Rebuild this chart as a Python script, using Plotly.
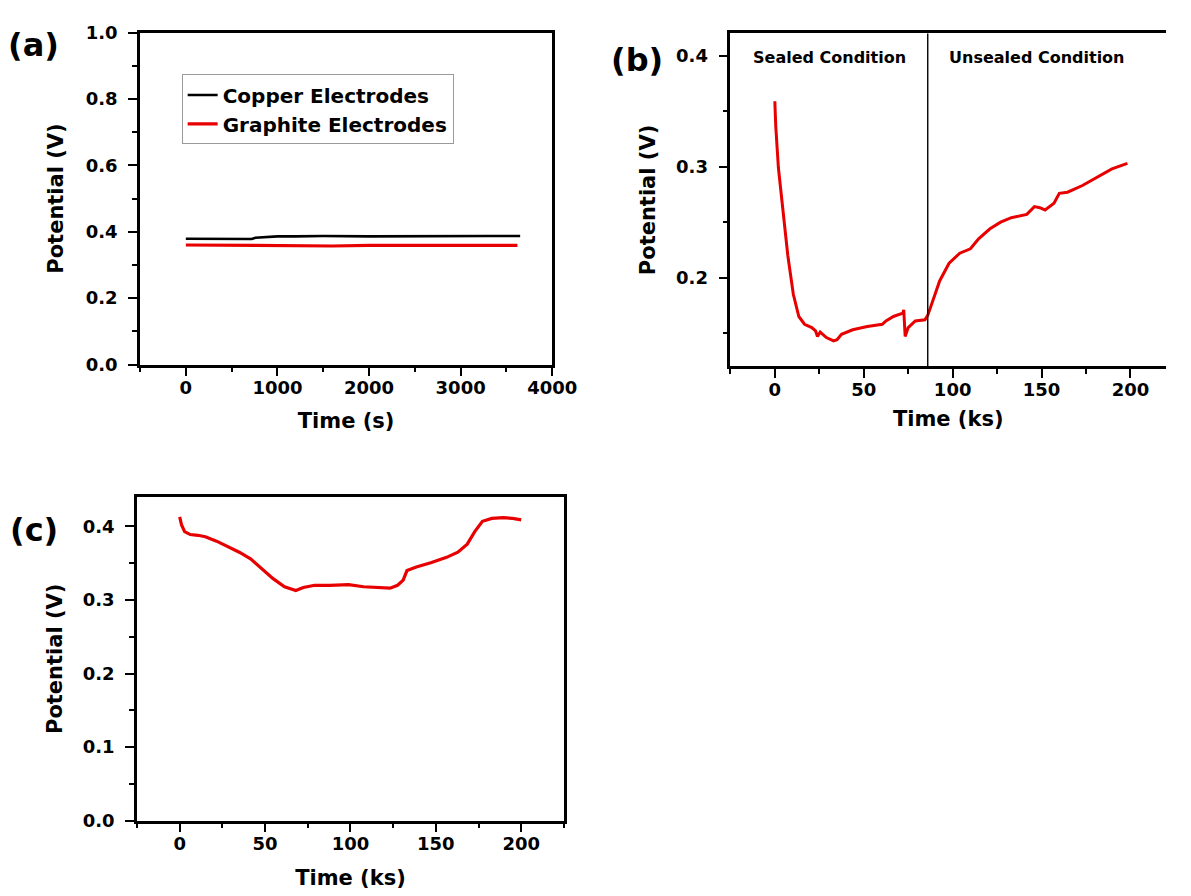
import plotly.graph_objects as go

# ---------------- data ----------------
# (a) short-term potential, time in s
cu_t = [0, 200, 400, 600, 720, 760, 900, 1000, 1200, 1500, 2000, 2500, 2800, 3000, 3300, 3650]
cu_v = [0.379, 0.379, 0.378, 0.378, 0.378, 0.382, 0.384, 0.386, 0.386, 0.387, 0.386, 0.387, 0.388, 0.387, 0.387, 0.387]
gr_t = [0, 400, 800, 1200, 1600, 2000, 2400, 2800, 3200, 3620]
gr_v = [0.360, 0.359, 0.359, 0.358, 0.357, 0.359, 0.359, 0.359, 0.359, 0.359]

# (b) sealed / unsealed, time in ks
b_t = [0, 0.5, 2, 4.2, 7.3, 10.4, 13.5, 16.7, 20.8, 22.9, 24, 25.5, 29, 33, 35, 37.5, 43.8, 52, 60.4,
       62.5, 66.7, 72, 72.5, 73.3, 75, 79, 84.4, 86, 88.5, 92.7, 98, 104, 110, 114.6, 121, 127, 133,
       141.7, 146, 149, 152, 157, 160, 164.6, 173, 181, 189.6, 198.3]
b_v = [0.359, 0.337, 0.299, 0.264, 0.220, 0.185, 0.165, 0.158, 0.155, 0.152, 0.147, 0.151, 0.146, 0.143,
       0.144, 0.149, 0.153, 0.156, 0.158, 0.161, 0.165, 0.168, 0.171, 0.147, 0.155, 0.161, 0.162, 0.166,
       0.178, 0.197, 0.213, 0.222, 0.226, 0.235, 0.244, 0.250, 0.254, 0.257, 0.264, 0.263, 0.261, 0.267,
       0.276, 0.277, 0.283, 0.290, 0.298, 0.303]
seal_break_ks = 86

# (c) long-term potential, time in ks
c_t = [0, 1.1, 2.9, 6.2, 10.6, 15, 21.6, 28.3, 34.9, 41.5, 48.1, 54.7, 61.4, 68, 72.4, 79, 87.9, 98.9,
       107.7, 116.6, 123.2, 127.6, 130.9, 133.1, 138.6, 147.5, 156.3, 162.9, 168.4, 172.8, 177.3, 182.8,
       189.4, 195, 200]
c_v = [0.413, 0.402, 0.393, 0.389, 0.388, 0.386, 0.380, 0.373, 0.365, 0.356, 0.342, 0.329, 0.318, 0.313,
       0.317, 0.320, 0.320, 0.321, 0.318, 0.317, 0.316, 0.320, 0.327, 0.340, 0.345, 0.351, 0.358, 0.365,
       0.376, 0.393, 0.407, 0.411, 0.412, 0.411, 0.409]

RED = "rgb(232,0,0)"
FONT = "DejaVu Sans"

fig = go.Figure()
fig.add_trace(go.Scatter(x=cu_t, y=cu_v, mode="lines", name="Copper Electrodes",
                         line=dict(color="black", width=2.6), xaxis="x", yaxis="y"))
fig.add_trace(go.Scatter(x=gr_t, y=gr_v, mode="lines", name="Graphite Electrodes",
                         line=dict(color=RED, width=3.2), xaxis="x", yaxis="y"))
fig.add_trace(go.Scatter(x=b_t, y=b_v, mode="lines", showlegend=False,
                         line=dict(color=RED, width=3), xaxis="x2", yaxis="y2"))
fig.add_trace(go.Scatter(x=c_t, y=c_v, mode="lines", showlegend=False,
                         line=dict(color=RED, width=3.2), xaxis="x3", yaxis="y3"))

tickfont = dict(family=FONT, size=18, color="black", weight="bold")
titlefont = dict(family=FONT, size=21, color="black", weight="bold")


def ax(domain, rng, dtick, minor_dtick, title, mirror=True, anchor=None, standoff=10,
       labelstandoff=0, tick0=0):
    d = dict(domain=domain, range=rng, dtick=dtick, tick0=tick0, showline=True, linewidth=2.6,
             linecolor="black", mirror=mirror, ticks="outside", ticklen=9, tickwidth=2.4,
             tickcolor="black", showgrid=False, zeroline=False, tickfont=tickfont,
             ticklabelstandoff=labelstandoff,
             minor=dict(ticks="outside", ticklen=5, tickwidth=2.4, tickcolor="black",
                        dtick=minor_dtick, tick0=tick0, showgrid=False),
             title=dict(text=title, font=titlefont, standoff=standoff), fixedrange=True)
    if anchor:
        d["anchor"] = anchor
    return d


fig.update_layout(
    width=1191, height=896, margin=dict(l=0, r=0, t=0, b=0),
    paper_bgcolor="white", plot_bgcolor="white", showlegend=True,
    xaxis=ax([0.1201, 0.4736], [-500, 4000], 1000, 500, "Time (s)", anchor="y", standoff=17,
             labelstandoff=-4),
    yaxis=ax([0.5960, 0.9754], [0, 1.0], 0.2, 0.1, "Potential (V)", anchor="x", standoff=17,
             labelstandoff=7),
    xaxis2=ax([0.6264, 1.0], [-25, 220], 50, 25, "Time (ks)", anchor="y2", standoff=13,
              labelstandoff=-4),
    yaxis2=ax([0.5938, 0.9743], [0.12, 0.42], 0.1, 0.05, "Potential (V)", mirror=False,
              anchor="x2", standoff=15, labelstandoff=7),
    xaxis3=ax([0.1175, 0.4836], [-25, 225], 50, 25, "Time (ks)", anchor="y3", standoff=18,
              labelstandoff=-4),
    yaxis3=ax([0.0748, 0.4445], [0, 0.44], 0.1, 0.05, "Potential (V)", anchor="x3", standoff=15,
              labelstandoff=7),
    legend=dict(x=0.1558, y=0.9275, xanchor="left", yanchor="top", bgcolor="white",
                bordercolor="#9a9a9a", borderwidth=1,
                font=dict(family=FONT, size=20, color="black", weight="bold")),
)
fig.update_yaxes(tickformat=".1f")

fig.add_shape(type="line", xref="x2", yref="y2 domain", x0=seal_break_ks, x1=seal_break_ks,
              y0=0, y1=1, line=dict(color="black", width=1.4))

for txt, x, y in [("(a)", 0.0285, 0.961), ("(b)", 0.5466, 0.944), ("(c)", 0.0294, 0.4074)]:
    fig.add_annotation(text=txt, xref="paper", yref="paper", x=x, y=y, showarrow=False,
                       xanchor="center", yanchor="middle",
                       font=dict(family=FONT, size=32, color="black", weight="bold"))
for txt, x in [("Sealed Condition", 0.7112), ("Unsealed Condition", 0.8892)]:
    fig.add_annotation(text=txt, xref="paper", yref="paper", x=x, y=0.9464, showarrow=False,
                       xanchor="center", yanchor="middle",
                       font=dict(family=FONT, size=16, color="black", weight="bold"))

fig.write_html("out.html")
